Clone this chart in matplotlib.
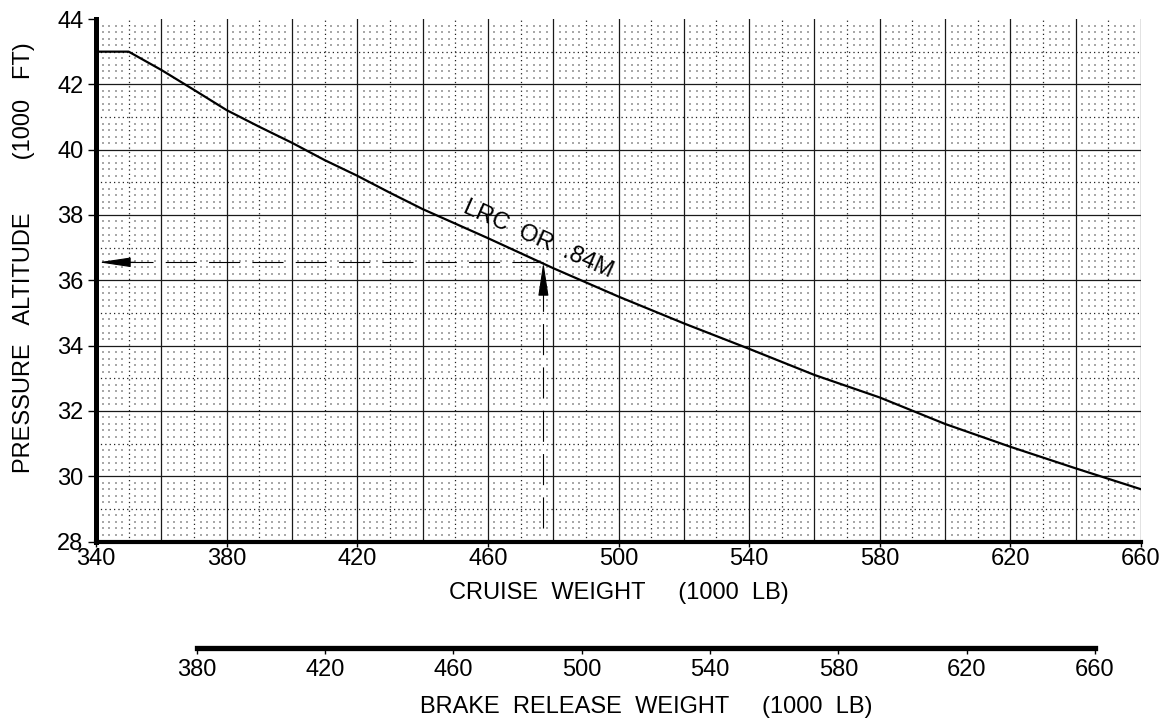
#!/usr/bin/env python3
"""
Cruise altitude chart: pressure altitude vs cruise weight (LRC or .84M)
"""
import numpy as np
import matplotlib
matplotlib.use('Agg')
import matplotlib.pyplot as plt

plt.rcParams['font.family'] = ['Liberation Sans', 'DejaVu Sans']

# curve (1000 LB, 1000 FT)
cruise_weight = [340, 350, 360, 370, 380, 390, 400, 410, 420, 430, 440,
                 460, 480, 500, 520, 540, 560, 580, 600, 620, 640, 660]
pressure_alt = [43.0, 43.0, 42.44, 41.83, 41.21, 40.70, 40.21, 39.68, 39.20,
                38.68, 38.18, 37.29, 36.37, 35.50, 34.68, 33.90, 33.10, 32.41,
                31.60, 30.90, 30.24, 29.60]

# worked example
example_weight = 477
example_alt = 36.55
example_start_alt = 28.4

curve_label = 'LRC  OR  .84M'
x_ticks = [340, 380, 420, 460, 500, 540, 580, 620, 660]
y_ticks = [28, 30, 32, 34, 36, 38, 40, 42, 44]
brake_ticks = [380, 420, 460, 500, 540, 580, 620, 660]

FS = 17


def draw_grid(ax):
    """Three level chart-paper grid"""
    # fine dot lattice
    gx = np.arange(342, 660, 2)
    gy = np.round(np.arange(28.2, 44.0, 0.2), 1)
    gx = gx[gx % 10 != 0]
    gy = gy[np.abs(gy - np.round(gy)) > 0.01]
    xx, yy = np.meshgrid(gx, gy)
    ax.scatter(xx.ravel(), yy.ravel(), s=0.9, marker='s', color='#a8a8a8',
               linewidths=0, zorder=0)
    # medium dotted
    for x in np.arange(350, 660, 20):
        ax.axvline(x, color='#202020', lw=0.9, ls=(0, (1, 2.5)), zorder=1)
    for y in np.arange(29, 44, 2):
        ax.axhline(y, color='#202020', lw=0.9, ls=(0, (1, 2.5)), zorder=1)
    # solid
    for x in np.arange(360, 661, 20):
        ax.axvline(x, color='#1a1a1a', lw=0.9, zorder=1)
    for y in np.arange(30, 43, 2):
        ax.axhline(y, color='#1a1a1a', lw=0.9, zorder=1)


def main():
    fig = plt.figure(figsize=(11.7, 7.24), dpi=100)
    ax = fig.add_axes([96 / 1170, 1 - 541.5 / 724, 1045 / 1170, 522.5 / 724])

    draw_grid(ax)
    ax.plot(cruise_weight, pressure_alt, color='black', lw=1.6, zorder=3)

    # example: dashed lines with arrow heads
    ax.plot([example_weight, example_weight], [example_start_alt, example_alt - 0.4],
            color='black', lw=0.8, dashes=(28, 11), zorder=3)
    ax.annotate('', xy=(example_weight, example_alt), xytext=(example_weight, example_alt - 1.0),
                arrowprops=dict(arrowstyle='-|>,head_length=2.1,head_width=0.32',
                                color='black', lw=0.8, shrinkA=0, shrinkB=0,
                                mutation_scale=10), zorder=4)
    ax.plot([example_weight, 348], [example_alt, example_alt],
            color='black', lw=0.8, dashes=(28, 11), zorder=3)
    ax.annotate('', xy=(340.8, example_alt), xytext=(352, example_alt),
                arrowprops=dict(arrowstyle='-|>,head_length=2.0,head_width=0.3',
                                color='black', lw=0.8, shrinkA=0, shrinkB=0,
                                mutation_scale=10), zorder=4)

    ax.text(475.5, 37.25, curve_label, rotation=-24, fontsize=FS,
            ha='center', va='center', rotation_mode='anchor', zorder=5)

    ax.set_xlim(340, 660)
    ax.set_ylim(28, 44)
    ax.set_xticks(x_ticks)
    ax.set_yticks(y_ticks)
    ax.tick_params(axis='x', labelsize=FS, length=3.5, width=1, pad=1.5)
    ax.tick_params(axis='y', labelsize=FS, length=6, width=1, pad=3)
    for side in ['top', 'right']:
        ax.spines[side].set_visible(False)
    ax.spines['left'].set_linewidth(3.6)
    ax.spines['bottom'].set_linewidth(3.0)
    ax.set_xlabel('CRUISE  WEIGHT     (1000  LB)', fontsize=FS, labelpad=8)
    ax.set_ylabel('PRESSURE   ALTITUDE        (1000   FT)', fontsize=FS)
    ax.yaxis.set_label_coords(-0.058, 0.543)

    # brake release weight scale
    ax2 = fig.add_axes([196.7 / 1170, 1 - 648 / 724, 898.3 / 1170, 0.0005])
    ax2.set_xlim(380, 660)
    ax2.set_xticks(brake_ticks)
    ax2.set_yticks([])
    ax2.patch.set_visible(False)
    for side in ['top', 'right', 'left']:
        ax2.spines[side].set_visible(False)
    ax2.spines['bottom'].set_linewidth(3.8)
    ax2.tick_params(axis='x', labelsize=FS, length=4.5, width=1, pad=3.5)
    ax2.set_xlabel('BRAKE  RELEASE  WEIGHT     (1000  LB)', fontsize=FS, labelpad=11)

    fig.savefig('out.png', dpi=100)
    plt.close(fig)


if __name__ == "__main__":
    main()
